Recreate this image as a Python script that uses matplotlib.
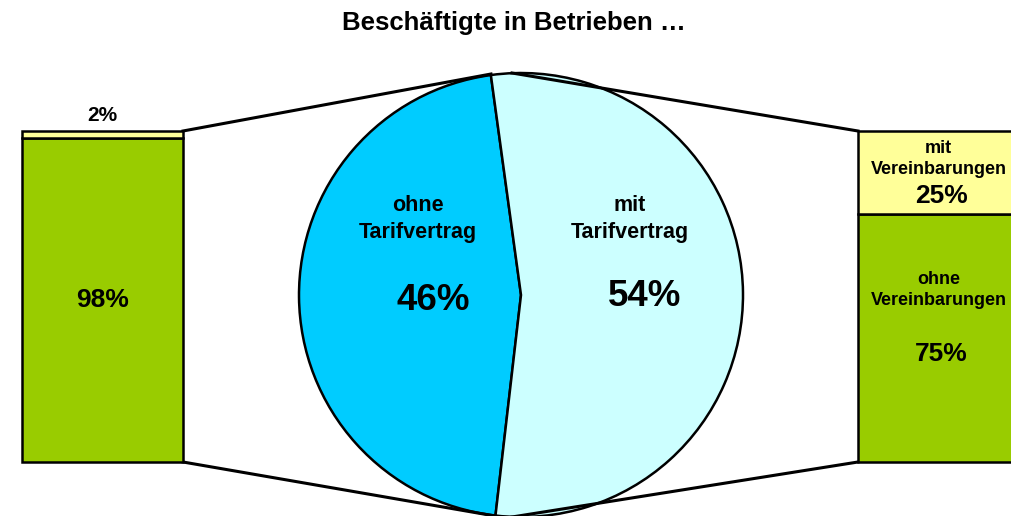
import matplotlib
matplotlib.use("Agg")
import matplotlib.pyplot as plt

plt.rcParams['font.family'] = ['Liberation Sans', 'DejaVu Sans']
plt.rcParams['font.weight'] = 'bold'

# Kreis: Beschäftigte nach Tarifbindung
pie_labels = ["ohne\nTarifvertrag", "mit\nTarifvertrag"]
pie_values = [46, 54]
pie_colors = ["#00CCFF", "#CCFFFF"]

# linker Balken
left_values = [98, 2]
left_labels = ["98%", "2%"]

# rechter Balken
right_values = [75, 25]
right_labels = ["ohne\nVereinbarungen", "mit\nVereinbarungen"]

GREEN = "#99CC00"
YELLOW = "#FFFF99"

W, H = 1012, 516
fig = plt.figure(figsize=(W / 100, H / 100), dpi=100)
ax = fig.add_axes([0, 0, 1, 1])
ax.set_xlim(0, W)
ax.set_ylim(0, H)
ax.set_aspect("equal")
ax.axis("off")

cx, cy, r = 521, 221, 222
start = 90 + 7.8
wedges, _ = ax.pie(pie_values, colors=pie_colors, center=(cx, cy), radius=r,
                   startangle=start, counterclock=True,
                   wedgeprops=dict(edgecolor="black", linewidth=1.8))
for w in wedges:
    w.set_clip_on(False)
ax.set_xlim(0, W)
ax.set_ylim(0, H)

# Beschriftungen im Kreis
ax.text(418, H - 219, pie_labels[0], ha="center", va="center", fontsize=15.5,
        fontweight="bold", linespacing=1.35)
ax.text(433, H - 300, f"{pie_values[0]}%", ha="center", va="center", fontsize=26.5,
        fontweight="bold")
ax.text(630, H - 219, pie_labels[1], ha="center", va="center", fontsize=15.5,
        fontweight="bold", linespacing=1.35)
ax.text(645, H - 297, f"{pie_values[1]}%", ha="center", va="center", fontsize=26.5,
        fontweight="bold")


def bar_axes(x0):
    bax = fig.add_axes([x0 / W, (H - 462) / H, 161 / W, 331 / H])
    bax.set_xlim(-0.5, 0.5)
    bax.set_ylim(0, 100)
    bax.axis("off")
    return bax


def stacked(bax, values):
    bottom = 0
    for v, c in zip(values, [GREEN, YELLOW]):
        b = bax.bar(0, v, width=1, bottom=bottom, color=c, edgecolor="black",
                    linewidth=1.8)
        for p in b:
            p.set_clip_on(False)
        bottom += v


# linker Balken
lax = bar_axes(22)
stacked(lax, left_values)
lax.text(0, left_values[0] / 2, left_labels[0], ha="center", va="center", fontsize=19,
         fontweight="bold")
lax.text(0, 100 + 4.8, left_labels[1], ha="center", va="center", fontsize=15,
         fontweight="bold")

# rechter Balken
rax = bar_axes(858)
stacked(rax, right_values)
rax.text(0, 52, right_labels[0], ha="center", va="center", fontsize=13,
         fontweight="bold", linespacing=1.3)
rax.text(0.02, 32.5, f"{right_values[0]}%", ha="center", va="center", fontsize=19,
         fontweight="bold")
rax.text(0, 91.5, right_labels[1], ha="center", va="center", fontsize=13,
         fontweight="bold", linespacing=1.3)
rax.text(0.02, 80.5, f"{right_values[1]}%", ha="center", va="center", fontsize=19,
         fontweight="bold")

# Verbindungslinien
lw = 2.2
ax.plot([183, 491], [H - 131, H - 74], color="black", lw=lw, clip_on=False)
ax.plot([183, 495], [H - 462, H - 516], color="black", lw=lw, clip_on=False)
ax.plot([858, 512], [H - 131, H - 73], color="black", lw=lw, clip_on=False)
ax.plot([858, 512], [H - 462, H - 517], color="black", lw=lw, clip_on=False)

fig.text(514 / W, 1 - 23 / H, "Beschäftigte in Betrieben …", ha="center", va="center",
         fontsize=18.5, fontweight="bold")

fig.savefig("out.png", dpi=100)
